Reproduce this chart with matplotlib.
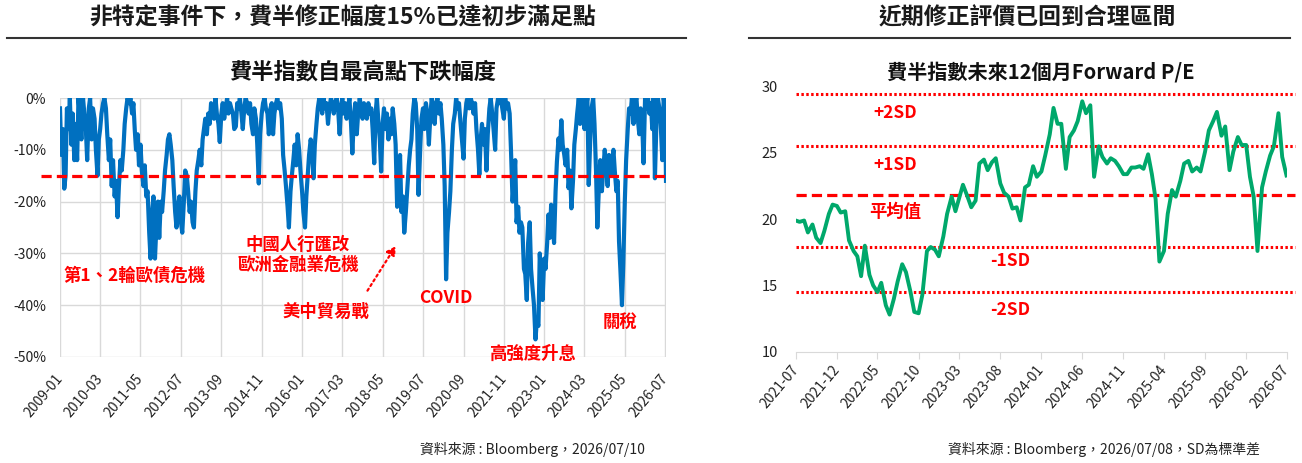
import matplotlib
matplotlib.use('Agg')
import matplotlib.pyplot as plt
import pandas as pd

plt.rcParams['font.family'] = ['Noto Sans CJK TC', 'DejaVu Sans']

# ---------------- data: SOX drawdown from high (%), semi-monthly ----------------
dd_2009 = [-2, -11, -6, -17.5, -15, -2, -6, 0, -9, -3, -12, -5, -12, 0, -4, -8, 0, -3, -6, -12, -2, 0, -8, -2]
dd_2010 = [-4, -10, -15, -8, -6, -3, -1, 0, -2, -7, -12, -8, -17, -12, -19, -16, -23, -17, -12, -14, -10, -5, -2, 0]
dd_2011 = [-1, 0, -3, -1, -6, -10, -7, -13, -9, -14, -17, -13, -19, -18, -26, -31, -22, -19, -31, -25, -20, -27, -20, -22]
dd_2012 = [-18, -14, -11, -8, -7, -9, -12, -17, -22, -25, -21, -19, -24, -26, -20, -14, -15, -18, -22, -20, -24, -25, -18, -14]
dd_2013 = [-12, -10, -13, -8, -6, -4, -7, -3, -5, -1, -2, -4, 0, -3, -5, -8.5, -3, -1, -4, -2, 0, -3, -1, -2]
dd_2014 = [-3, -6, -5.5, -1, -2, 0, -3, -6, -2, 0, -1, -3, -1, -5, -7, -2, -4, -9, -16.5, -7, -3, -1, 0, -2]
dd_2015 = [-3, -7, -2, -1, -7, -3, -1, 0, -2, -1, -4, -11, -14, -17, -21, -25, -18, -15, -12, -9, -13, -7, -10, -14]
dd_2016 = [-18, -22, -25, -19, -15, -11, -8, -10, -15.5, -9, -5, -2, 0, -1, -3, 0, -2, -1, -5, -2, 0, -1, -3, -1]
dd_2017 = [0, -2, -7, -2, 0, -3, -1, -4, -2, 0, -5, -10.7, -4, -1, -7, -3, 0, -2, -4, -1, -2, -4, -1, -3]
dd_2018 = [-2, -6, -12.6, -3, 0, -4, -8, -14.2, -5, -2, -6, -3, -8, -4, -7, -2, -5, -9, -21, -15, -11, -22, -19, -26]
dd_2019 = [-22, -18, -13, -10, -8, -3, 0, -1, -6, -18.7, -10, -4, -2, -6, -1, -3, -9, -4, 0, -2, -5, -1, 0, -3]
dd_2020 = [-1, -4, -9, -17, -35, -26, -22, -18, -10, -5, -3, 0, -2, -1, -5, -8, -11.7, -4, -1, 0, -2, 0, -1, -3]
dd_2021 = [-1, -6, -10, -14.8, -8, -5, -9, -6, -14, -7, -2, 0, -3, -6, -10, -2, 0, -1, 0, -2, -4, 0, -2, -1]
dd_2022 = [-3, -10, -20, -16, -12, -24, -21, -26, -24, -25, -33, -34, -39, -28, -24, -33, -37, -40, -46.6, -43, -44, -30, -35, -39]
dd_2023 = [-31, -33, -28, -22.5, -27, -20.6, -24, -28, -18, -12.3, -7.8, -10, -4.3, -9, -11, -13, -10, -17.4, -14, -21.3, -16, -9, -6, -3]
dd_2024 = [0, -5, -1, 0, -6, -2, 0, -16.8, -8, -2, 0, -5, -14, -25, -17, -12, -18, -14, -10, -13, -17, -11, -15, -13]
dd_2025 = [-10, -14, -18, -16, -27.7, -33, -40, -32, -20, -12, -6, -2, -3, 0, -5, -1, 0, -4, -7, -2, -5, -12.6, 0, -2]
dd_2026 = [0, -3, -1, -6, 0, -15.5, -4, 0, -2, -5, -12, 0, -2, -16]

drawdown = (dd_2009 + dd_2010 + dd_2011 + dd_2012 + dd_2013 + dd_2014 + dd_2015 + dd_2016 + dd_2017
            + dd_2018 + dd_2019 + dd_2020 + dd_2021 + dd_2022 + dd_2023 + dd_2024 + dd_2025 + dd_2026)
dd_dates = list(pd.date_range('2009-01-01', periods=len(drawdown) - 1, freq='SMS')) + [pd.Timestamp('2026-07-10')]
left_ticks = pd.date_range('2009-01-01', '2026-07-01', freq='14MS')
left_yticks = [0, -10, -20, -30, -40, -50]
threshold = -15

# ---------------- data: SOX 12M forward P/E, semi-monthly ----------------
pe_values = [19.9, 19.8, 19.9, 19.0, 19.6, 18.6, 18.2, 19.1, 20.4, 21.1,
             21.0, 20.5, 20.6, 18.4, 17.6, 17.2, 15.7, 18.0, 15.8, 15.0,
             14.5, 15.2, 13.5, 12.8, 14.0, 15.3, 16.6, 16.0, 14.5, 13.0,
             12.9, 14.3, 17.6, 17.9, 17.7, 17.2, 18.7, 20.4, 21.7, 20.6,
             21.6, 22.6, 21.7, 20.9, 21.4, 24.2, 24.5, 23.7, 24.3, 24.6,
             22.7, 22.0, 21.7, 20.8, 20.9, 19.9, 22.4, 22.6, 24.0, 23.2,
             23.6, 24.8, 26.4, 28.4, 27.2, 27.2, 23.8, 26.2, 26.7, 27.4,
             28.9, 28.0, 28.6, 23.2, 25.5, 24.7, 24.2, 24.6, 24.4, 24.0,
             23.4, 23.4, 23.9, 23.9, 24.0, 23.8, 24.9, 23.4, 21.5, 16.8,
             17.6, 20.4, 22.2, 21.7, 22.9, 24.2, 24.4, 23.6, 23.9, 23.6,
             25.1, 26.7, 27.4, 28.1, 26.3, 27.0, 23.7, 25.1, 26.2, 25.6,
             25.6, 23.2, 21.7, 17.6, 22.4, 23.6, 24.8, 25.5, 28.0, 24.7, 23.3]
pe_dates = pd.date_range('2021-07-01', periods=len(pe_values), freq='SMS')
right_ticks = pd.date_range('2021-07-01', periods=13, freq='5MS')
right_yticks = [10, 15, 20, 25, 30]
band_names = ['+2SD', '+1SD', '平均值', '-1SD', '-2SD']
band_levels = [29.45, 25.55, 21.8, 17.93, 14.48]

W, H = 1302, 463
RED = '#FF0000'
BLUE = '#0070C0'
GREEN = '#00A86B'
GRID = '#D9D9D9'


def fx(px):
    return px / W


def fy(py):
    return 1 - py / H


fig = plt.figure(figsize=(W / 100, H / 100), dpi=100)

# ---- headers ----
fig.text(fx(343), fy(18), '非特定事件下，費半修正幅度15%已達初步滿足點', ha='center', va='center',
         fontsize=16.5, fontweight='bold', color='#1a1a1a')
fig.text(fx(1027), fy(18), '近期修正評價已回到合理區間', ha='center', va='center',
         fontsize=16.5, fontweight='bold', color='#1a1a1a')
fig.add_artist(plt.Line2D([fx(7), fx(686)], [fy(38), fy(38)], color='#333333', lw=1.5))
fig.add_artist(plt.Line2D([fx(749), fx(1290)], [fy(38), fy(38)], color='#333333', lw=1.5))

# ---------------- left chart ----------------
axL = fig.add_axes([fx(60), fy(357), fx(666) - fx(60), fy(98) - fy(357)])
axL.plot(dd_dates, drawdown, color=BLUE, lw=3.0, solid_joinstyle='round', zorder=3)
axL.axhline(threshold, xmin=-0.031, xmax=1.003, color=RED, lw=2.3, dashes=(3.2, 1.6), clip_on=False, zorder=4)
axL.set_ylim(-50, 0)
axL.set_xlim(pd.Timestamp('2009-01-01'), pd.Timestamp('2026-07-10'))
axL.set_yticks(left_yticks)
axL.set_yticklabels([f'{v}%' for v in left_yticks])
axL.set_xticks(left_ticks)
axL.set_xticklabels([d.strftime('%Y-%m') for d in left_ticks], rotation=50, ha='right',
                    rotation_mode='anchor', va='center')
axL.grid(True, color=GRID, lw=1, zorder=0)
for s in axL.spines.values():
    s.set_visible(False)
axL.tick_params(axis='both', length=0, labelsize=10, colors='#222222')
axL.tick_params(axis='y', pad=10)
axL.tick_params(axis='x', pad=14)
axL.set_title('費半指數自最高點下跌幅度', fontsize=16, fontweight='bold', pad=14, color='#111111')

ann_kw = dict(color=RED, fontsize=12.5, fontweight='bold', va='center')
fig.text(fx(63), fy(276), '第1、2輪歐債危機', ha='left', **ann_kw)
fig.text(fx(298), fy(245), '中國人行匯改', ha='center', **ann_kw)
fig.text(fx(298), fy(265), '歐洲金融業危機', ha='center', **ann_kw)
fig.text(fx(326), fy(312), '美中貿易戰', ha='center', **ann_kw)
fig.text(fx(446), fy(298), 'COVID', ha='center', **ann_kw)
fig.text(fx(532), fy(354), '高強度升息', ha='center', **ann_kw)
fig.text(fx(620), fy(322), '關稅', ha='center', **ann_kw)
fig.add_artist(plt.matplotlib.patches.FancyArrowPatch(
    (fx(366), fy(293)), (fx(397), fy(244)), transform=fig.transFigure,
    arrowstyle='-|>,head_length=5,head_width=3', linestyle=(0, (1, 1.5)), color=RED, lw=1.6))

# ---------------- right chart ----------------
axR = fig.add_axes([fx(795.8), fy(351.7), fx(1286.5) - fx(795.8), fy(86.7) - fy(351.7)])
for name, lvl in zip(band_names, band_levels):
    if name == '平均值':
        axR.axhline(lvl, xmin=0, xmax=1.017, color=RED, lw=2.3, dashes=(3.2, 1.6), clip_on=False, zorder=2)
    else:
        axR.axhline(lvl, xmin=0, xmax=1.017, color=RED, lw=2.2, dashes=(0.8, 0.8), clip_on=False, zorder=2)
axR.plot(pe_dates, pe_values, color=GREEN, lw=2.8, solid_joinstyle='round', zorder=3)
axR.set_ylim(10, 30)
axR.set_xlim(pe_dates[0], pe_dates[-1])
axR.set_yticks(right_yticks)
axR.set_xticks(right_ticks)
axR.set_xticklabels([d.strftime('%Y-%m') for d in right_ticks], rotation=50, ha='right',
                    rotation_mode='anchor', va='center')
for k in ['top', 'right', 'left']:
    axR.spines[k].set_visible(False)
axR.spines['bottom'].set_color(GRID)
axR.tick_params(axis='y', length=0, labelsize=10.5, pad=13, colors='#222222')
axR.tick_params(axis='x', length=5, color=GRID, labelsize=10, pad=6, colors='#222222')
axR.tick_params(axis='x', color=GRID)
axR.set_title('費半指數未來12個月Forward P/E', fontsize=14.5, fontweight='bold', pad=6, color='#111111')

band_pos = {'+2SD': (895, 113), '+1SD': (895, 165), '平均值': (895, 212), '-1SD': (1010, 261), '-2SD': (1010, 310)}
for name in band_names:
    px, py = band_pos[name]
    fig.text(fx(px), fy(py), name, ha='center', **ann_kw)

# ---- footers ----
fig.text(fx(645), fy(449), '資料來源 : Bloomberg，2026/07/10', ha='right', va='center', fontsize=10, color='#222222')
fig.text(fx(1260), fy(449), '資料來源 : Bloomberg，2026/07/08，SD為標準差', ha='right', va='center', fontsize=10, color='#222222')

fig.savefig('out.png', dpi=100)
